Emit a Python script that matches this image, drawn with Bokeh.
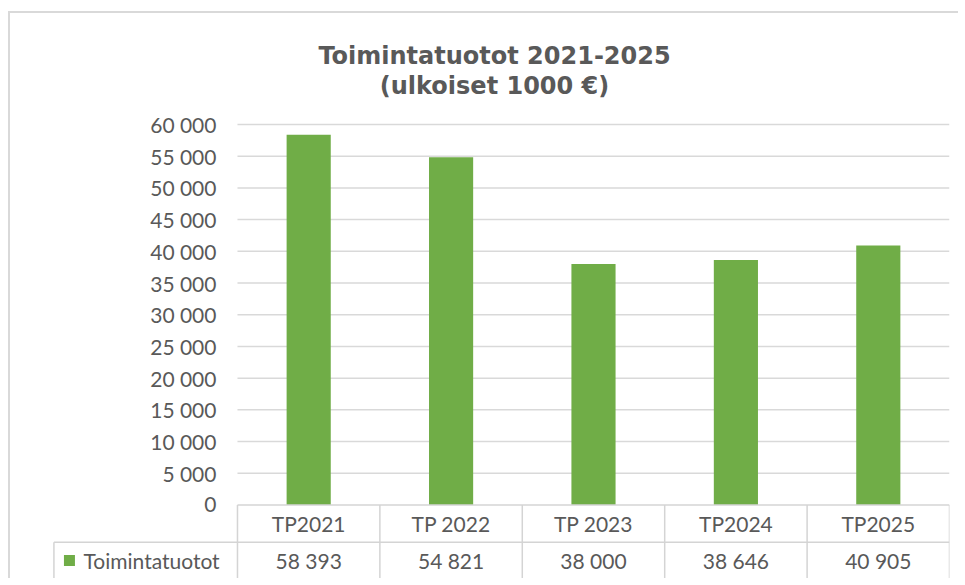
from bokeh.plotting import figure
from bokeh.models import Range1d, Label
from bokeh.embed import file_html
from bokeh.resources import INLINE
from bokeh.core.properties import value

# ---- data ----
categories = ["TP2021", "TP 2022", "TP 2023", "TP2024", "TP2025"]
values = [58393, 54821, 38000, 38646, 40905]
series_name = "Toimintatuotot"
y_ticks = [0, 5000, 10000, 15000, 20000, 25000, 30000, 35000, 40000, 45000, 50000, 55000, 60000]
y_tick_labels = ["0", "5 000", "10 000", "15 000", "20 000", "25 000", "30 000",
                 "35 000", "40 000", "45 000", "50 000", "55 000", "60 000"]
title_lines = ["Toimintatuotot 2021-2025", "(ulkoiset 1000 €)"]

# ---- style / layout ----
GREEN = "#70ad47"
TXT = "#595959"
GRID = "#d9d9d9"
TABLE = "#d4d4d4"
FONT = "Lato"
FS = "21px"
ROW1 = 5866
ROW2 = 5800
LEG_LEFT = -1.289
n = len(categories)

# frame covers the whole drawing; y scale: 157.69 units per pixel
p = figure(width=950, height=567, output_backend="svg", toolbar_location=None,
           x_range=Range1d(-1.299, n), y_range=Range1d(-11907, 77504),
           x_axis_location=None, y_axis_location=None,
           min_border_left=42, min_border_right=11, min_border_top=0, min_border_bottom=0)
p.grid.visible = False
p.outline_line_color = None
p.background_fill_color = "white"
p.border_fill_color = "white"
p.styles = {"border-top": "2px solid #d9d9d9", "border-left": "2px solid #d9d9d9",
            "margin-top": "11px", "margin-left": "8px"}

# gridlines
gt = [t for t in y_ticks if t > 0]
p.segment(x0=[0] * len(gt), y0=gt, x1=[n] * len(gt), y1=gt, line_color=GRID, line_width=1.5)

# bars
xs = [i + 0.5 for i in range(n)]
p.vbar(x=xs, top=values, bottom=0, width=0.31, fill_color=GREEN, line_color=None)

# y tick labels
p.text(x=[0] * len(y_ticks), y=y_ticks, text=y_tick_labels, x_offset=-21,
       text_align="right", text_baseline="middle", text_font=value(FONT),
       text_font_size=FS, text_color=TXT)

# data table lines
hx0 = [0, LEG_LEFT, LEG_LEFT]
hy = [0, -ROW1, -(ROW1 + ROW2)]
p.segment(x0=hx0, y0=hy, x1=[n] * 3, y1=hy, line_color=TABLE, line_width=1.5)
vx = list(range(n + 1))
p.segment(x0=vx, y0=[0] * (n + 1), x1=vx, y1=[-(ROW1 + ROW2)] * (n + 1),
          line_color=TABLE, line_width=1.5)
p.segment(x0=[LEG_LEFT], y0=[-ROW1], x1=[LEG_LEFT], y1=[-(ROW1 + ROW2)],
          line_color=TABLE, line_width=1.5)

# table text
p.text(x=xs, y=[-ROW1 / 2] * n, text=categories, text_align="center", text_baseline="middle",
       text_font=value(FONT), text_font_size=FS, text_color=TXT)
val_labels = [f"{v:,}".replace(",", " ") for v in values]
p.text(x=xs, y=[-(ROW1 + ROW2 / 2)] * n, text=val_labels, text_align="center",
       text_baseline="middle", text_font=value(FONT), text_font_size=FS, text_color=TXT)

# legend key in table
p.scatter(x=[-1.18], y=[-(ROW1 + ROW2 / 2)], marker="square", size=11,
          fill_color=GREEN, line_color=None)
p.text(x=[-1.0815], y=[-(ROW1 + ROW2 / 2)], text=[series_name], text_align="left",
       text_baseline="middle", text_font=value(FONT), text_font_size=FS, text_color=TXT)

# title
for line, yy in zip(title_lines, [70724, 65993]):
    p.add_layout(Label(x=1.805, y=yy, text=line, text_align="center", text_baseline="alphabetic",
                       text_font="DejaVu Sans", text_font_style="bold", text_font_size="24px",
                       text_color=TXT))

open("out.html", "w").write(file_html(p, INLINE))
